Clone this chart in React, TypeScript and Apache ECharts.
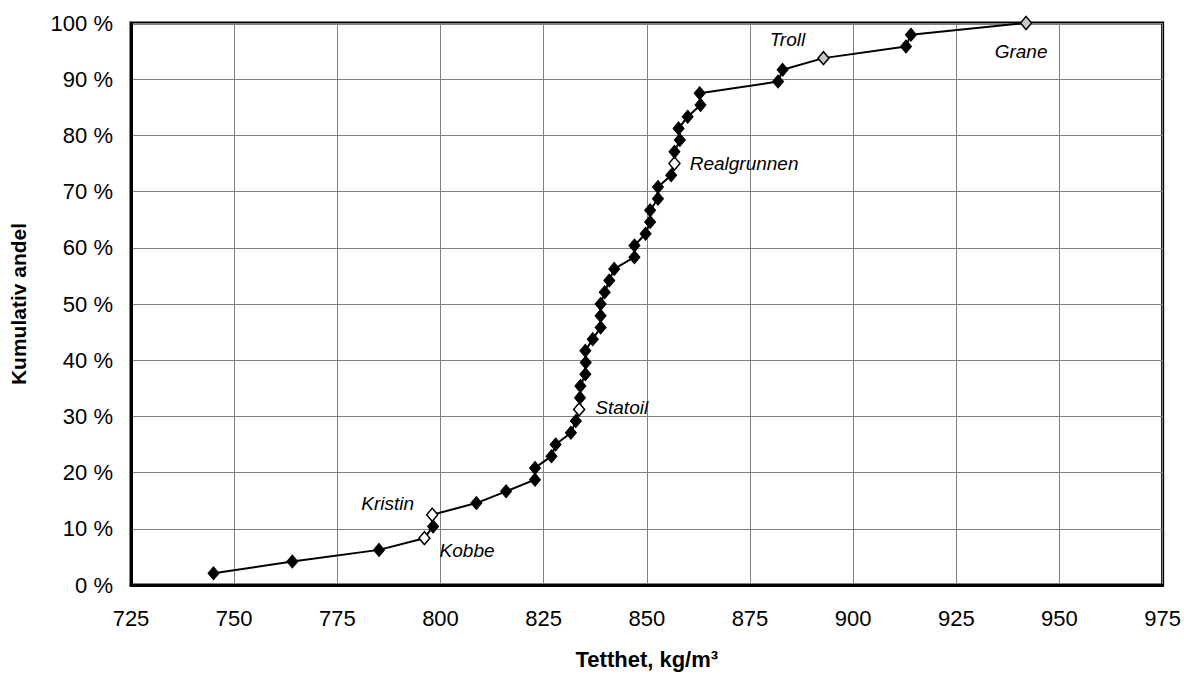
import React, { useEffect, useRef } from "react";
import * as echarts from "echarts";

// Density (kg/m3) of each crude, sorted ascending
const densities = [
  745.0, 764.1, 785.1, 796.1, 798.2, 798.0, 808.7, 815.9, 822.9, 822.9,
  826.9, 827.9, 831.6, 832.8, 833.6, 833.8, 833.9, 835.1, 835.2, 835.1,
  836.9, 838.8, 838.8, 838.8, 839.8, 840.9, 842.1, 847.0, 847.0, 849.7,
  850.8, 850.8, 852.7, 852.7, 855.9, 856.7, 856.7, 858.0, 857.7, 859.9,
  863.0, 862.8, 881.8, 882.9, 892.8, 912.8, 914.0, 941.9,
];

// Cumulative share (%)
const cumulativeShare = [
  2.08, 4.17, 6.25, 8.33, 10.42, 12.5, 14.58, 16.67, 18.75, 20.83,
  22.92, 25.0, 27.08, 29.17, 31.25, 33.33, 35.42, 37.5, 39.58, 41.67,
  43.75, 45.83, 47.92, 50.0, 52.08, 54.17, 56.25, 58.33, 60.42, 62.5,
  64.58, 66.67, 68.75, 70.83, 72.92, 75.0, 77.08, 79.17, 81.25, 83.33,
  85.42, 87.5, 89.58, 91.67, 93.75, 95.83, 97.92, 100.0,
];

// Named fields (index into the arrays above)
const namedFields = ["Kobbe", "Kristin", "Statoil", "Realgrunnen", "Troll", "Grane"];
const namedIndices = [3, 5, 14, 35, 44, 47];

const xTicks = [725, 750, 775, 800, 825, 850, 875, 900, 925, 950, 975];
const yTicks = [0, 10, 20, 30, 40, 50, 60, 70, 80, 90, 100];

const FONT = "'Liberation Sans', Arial, Helvetica, sans-serif";

const labelStyle: Record<string, any> = {
  Kobbe: { position: "right", distance: 9, offset: [0, 12], fill: "#ffffff" },
  Kristin: { position: "left", distance: 12, offset: [0, -11], fill: "#ffffff" },
  Statoil: { position: "right", distance: 10, offset: [0, -2], fill: "#ffffff" },
  Realgrunnen: { position: "right", distance: 9, offset: [0, 0], fill: "#ffffff" },
  Troll: { position: "top", distance: 2, offset: [-36, 0], fill: "#c8c8c8" },
  Grane: { position: "bottom", distance: 12, offset: [-5, 0], fill: "#c8c8c8" },
};

export default function App() {
  const ref = useRef<HTMLDivElement>(null);

  useEffect(() => {
    if (!ref.current) return;
    const chart = echarts.init(ref.current, undefined, { renderer: "svg" });

    const data = densities.map((d, i) => {
      const k = namedIndices.indexOf(i);
      if (k < 0) return { value: [d, cumulativeShare[i]] };
      const name = namedFields[k];
      const s = labelStyle[name];
      return {
        value: [d, cumulativeShare[i]],
        name,
        itemStyle: { color: s.fill, borderColor: "#000", borderWidth: 1.5 },
        label: {
          show: true,
          formatter: name,
          position: s.position,
          distance: s.distance,
          offset: s.offset,
          fontStyle: "italic",
          fontSize: 19,
          color: "#000",
          fontFamily: FONT,
        },
      };
    });

    chart.setOption({
      animation: false,
      backgroundColor: "#ffffff",
      textStyle: { fontFamily: FONT },
      grid: {
        left: 128,
        right: 21,
        top: 23,
        bottom: 88,
        show: true,
        borderColor: "#000",
        borderWidth: 3,
        backgroundColor: "transparent",
      },
      xAxis: {
        type: "value",
        min: xTicks[0],
        max: xTicks[xTicks.length - 1],
        interval: 25,
        name: "Tetthet, kg/m³",
        nameLocation: "middle",
        nameGap: 63,
        nameTextStyle: { fontSize: 22, fontWeight: "bold", color: "#000", fontFamily: FONT },
        axisLine: { show: true, lineStyle: { color: "#000", width: 3 } },
        axisTick: { show: false },
        axisLabel: { fontSize: 22, color: "#000", margin: 22, fontFamily: FONT },
        splitLine: { show: true, lineStyle: { color: "#808080", width: 1 } },
      },
      yAxis: {
        type: "value",
        min: yTicks[0],
        max: yTicks[yTicks.length - 1],
        interval: 10,
        name: "Kumulativ andel",
        nameLocation: "middle",
        nameGap: 102,
        nameRotate: 90,
        nameTextStyle: { fontSize: 21, fontWeight: "bold", color: "#000", fontFamily: FONT },
        axisLine: { show: true, lineStyle: { color: "#000", width: 3 } },
        axisTick: { show: false },
        axisLabel: {
          fontSize: 22,
          color: "#000",
          margin: 18,
          fontFamily: FONT,
          formatter: (v: number) => `${v} %`,
        },
        splitLine: { show: true, lineStyle: { color: "#808080", width: 1 } },
      },
      series: [
        {
          type: "line",
          data,
          symbol: "diamond",
          symbolSize: [11, 13],
          showAllSymbol: true,
          lineStyle: { color: "#000", width: 2 },
          itemStyle: { color: "#000", borderColor: "#000", borderWidth: 1 },
          emphasis: { disabled: true },
          z: 5,
        },
      ],
    });

    return () => chart.dispose();
  }, []);

  return (
    <div
      ref={ref}
      style={{ position: "fixed", left: 0, top: 0, width: 1184, height: 675, background: "#fff" }}
    />
  );
}
